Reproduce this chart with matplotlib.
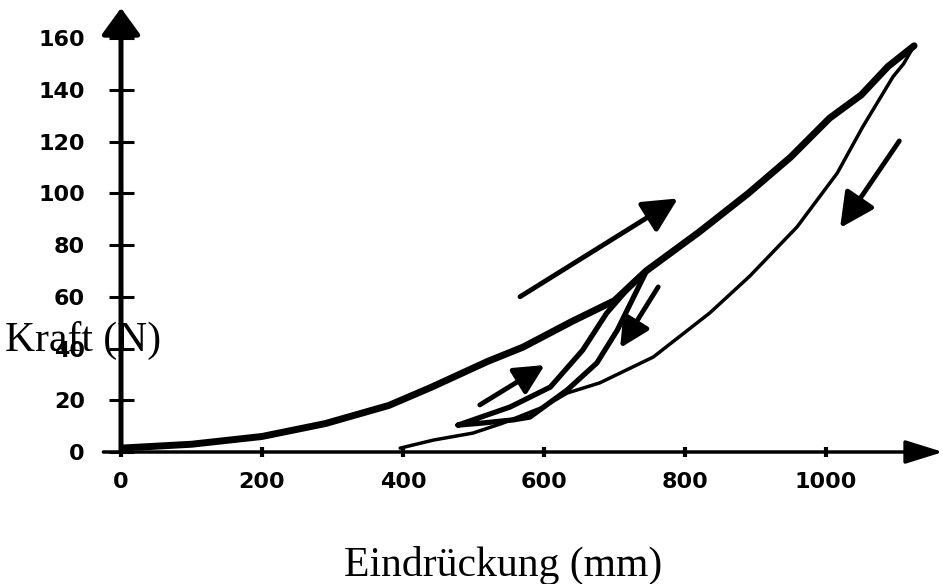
import matplotlib
matplotlib.use("Agg")
import matplotlib.pyplot as plt

# loading curve (thick)
load_x = [0, 100, 200, 290, 380, 440, 520, 570, 640, 700, 745, 820, 890, 950, 1005, 1050, 1088, 1125]
load_y = [1.5, 3, 6, 11, 18, 25, 35, 40.5, 50.5, 58.5, 70, 85, 100, 114, 129, 138, 149, 157]

# unloading curve (thin)
unload_x = [1125, 1110, 1095, 1052, 1016, 959, 892, 835, 755, 679, 633, 599, 540, 499, 443, 396]
unload_y = [157, 150, 145, 125.6, 107.8, 87, 68, 53.7, 36.7, 26.7, 22.8, 17.4, 11, 7.3, 4.6, 1.5]

# inner reloading loop
loop_x = [478, 552, 609, 655, 689, 726, 746, 704, 675, 633, 580, 556, 513, 478]
loop_y = [10.4, 17.4, 25.1, 39.4, 53.7, 65.3, 70.3, 47.1, 34.4, 24, 13.5, 12.4, 11.2, 10.4]

# direction arrows: (start, end, head size)
arrows = [
    ((566, 60), (790, 98), 35),
    ((1104, 120.2), (1020, 86.6), 35),
    ((509, 18.2), (601, 33.6), 30),
    ((762, 63.8), (708, 40.2), 30),
]

x_ticks = [0, 200, 400, 600, 800, 1000]
y_ticks = [0, 20, 40, 60, 80, 100, 120, 140, 160]
x_max = 1166
y_max = 171.6

fig = plt.figure(figsize=(9.43, 5.84), dpi=100)
ax = fig.add_axes([121 / 943, 132 / 584, 822 / 943, 444 / 584])
ax.set_xlim(0, x_max)
ax.set_ylim(0, y_max)
for s in ax.spines.values():
    s.set_visible(False)

# axes drawn as arrows
ax.annotate("", xy=(0, y_max), xytext=(0, 0),
            arrowprops=dict(arrowstyle="-|>,head_length=0.55,head_width=0.4",
                            lw=3.6, color="black", mutation_scale=30,
                            shrinkA=0, shrinkB=0))
ax.annotate("", xy=(x_max, 0), xytext=(-25, 0),
            arrowprops=dict(arrowstyle="-|>,head_length=0.77,head_width=0.24",
                            lw=2.5, color="black", mutation_scale=30,
                            shrinkA=0, shrinkB=0))

ax.plot(load_x, load_y, color="black", lw=5, solid_capstyle="round", solid_joinstyle="round")
ax.plot(unload_x, unload_y, color="black", lw=2.5, solid_capstyle="round", solid_joinstyle="round")
ax.plot(loop_x, loop_y, color="black", lw=3.8, solid_capstyle="round", solid_joinstyle="round")

for start, end, size in arrows:
    ax.annotate("", xy=end, xytext=start,
                arrowprops=dict(arrowstyle="-|>,head_length=0.6,head_width=0.3",
                                lw=3.5, color="black", mutation_scale=size,
                                shrinkA=0, shrinkB=0, capstyle="round"))

ax.set_xticks(x_ticks)
ax.set_yticks(y_ticks)
ax.tick_params(axis="y", direction="inout", length=18, width=2.2, pad=17)
ax.tick_params(axis="x", direction="inout", length=7, width=3, pad=11)
for lab in ax.get_xticklabels() + ax.get_yticklabels():
    lab.set_fontweight("bold")
    lab.set_fontsize(16)
    lab.set_family("DejaVu Sans")

fig.text(5 / 943, 1 - 340 / 584, "Kraft (N)", family="Liberation Serif",
         fontsize=30, ha="left", va="center")
fig.text(503 / 943, 1 - 565 / 584, "Eindrückung (mm)", family="Liberation Serif",
         fontsize=30, ha="center", va="center")

fig.savefig("out.png", dpi=100)
